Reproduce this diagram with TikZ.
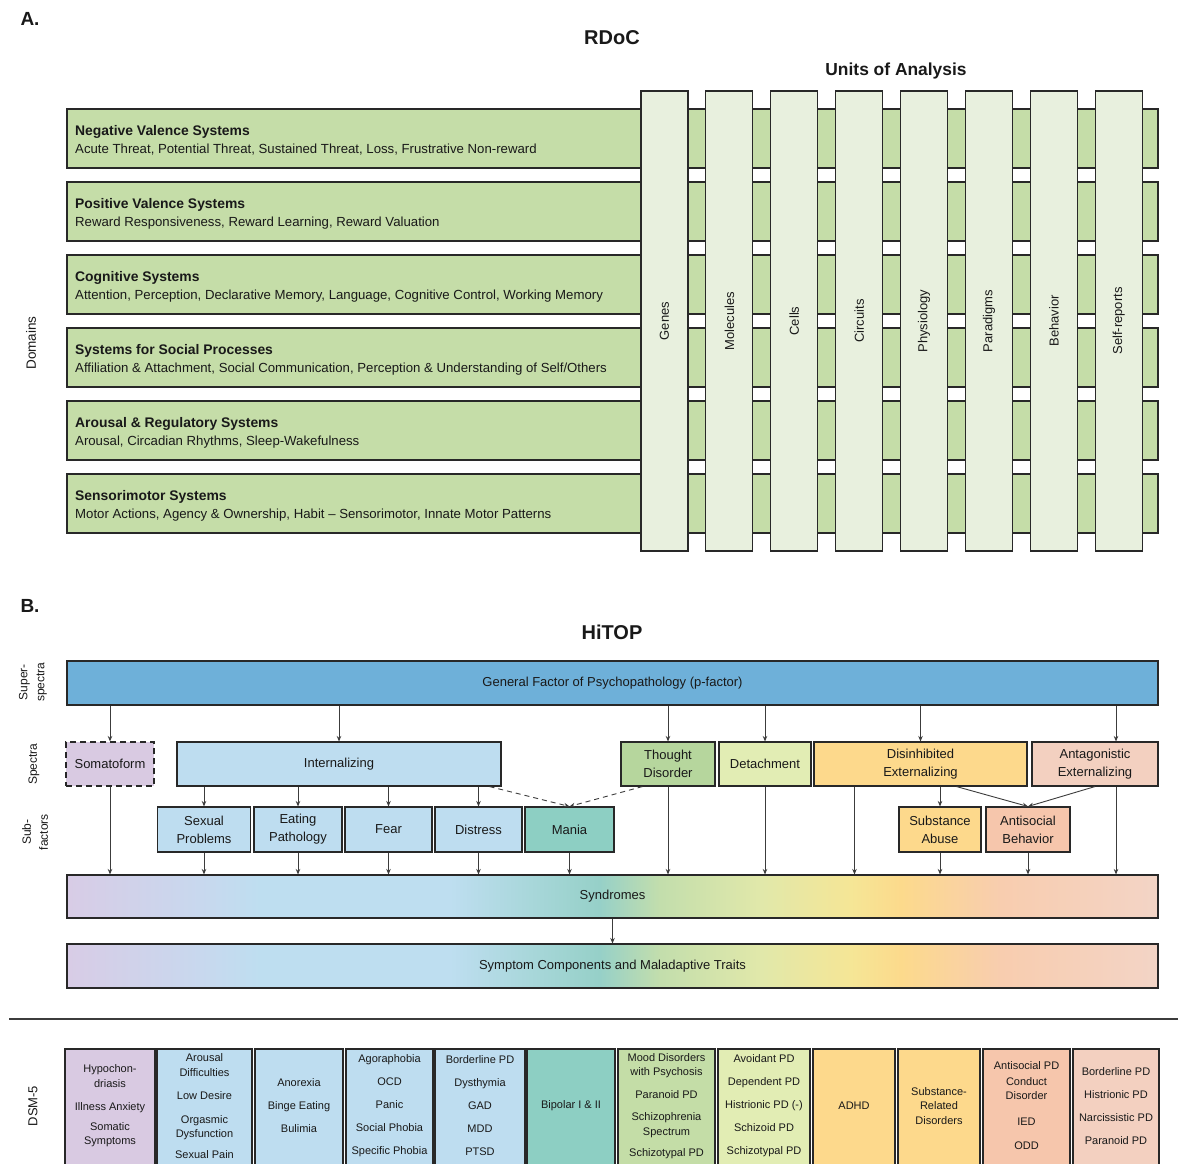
\documentclass[tikz,border=0pt]{standalone}
\usepackage{fontspec}
\setmainfont{Liberation Sans}
\usetikzlibrary{arrows.meta,calc}

\definecolor{ink}{RGB}{25,25,25}
\definecolor{edge}{RGB}{40,40,40}
\definecolor{wire}{RGB}{60,60,60}
\definecolor{rowgreen}{RGB}{197,221,168}
\definecolor{colgreen}{RGB}{232,240,222}
\definecolor{gfblue}{RGB}{110,176,217}
\definecolor{ltblue}{RGB}{190,221,240}
\definecolor{lav}{RGB}{217,202,226}
\definecolor{maniacol}{RGB}{141,207,195}
\definecolor{tdgreen}{RGB}{182,214,157}
\definecolor{dsmgreen}{RGB}{196,221,167}
\definecolor{detyel}{RGB}{226,237,180}
\definecolor{disorange}{RGB}{253,217,140}
\definecolor{antpink}{RGB}{243,208,192}
\definecolor{asbpink}{RGB}{246,198,172}

% colour stops of the spectrum band (path width maps to 25bp..75bp)
\definecolor{gA}{RGB}{216,204,230}
\definecolor{gB}{RGB}{200,216,238}
\definecolor{gC}{RGB}{190,222,240}
\definecolor{gD}{RGB}{190,222,240}
\definecolor{gE}{RGB}{160,212,210}
\definecolor{gF}{RGB}{150,208,200}
\definecolor{gG}{RGB}{195,222,172}
\definecolor{gH}{RGB}{225,232,170}
\definecolor{gI}{RGB}{245,230,150}
\definecolor{gJ}{RGB}{252,218,140}
\definecolor{gK}{RGB}{248,205,175}
\definecolor{gL}{RGB}{243,212,198}
\pgfdeclarehorizontalshading{spectrumband}{100bp}{%
  color(0bp)=(gA); color(25bp)=(gA); color(31.1bp)=(gB); color(33.85bp)=(gC);
  color(42.55bp)=(gD); color(47.6bp)=(gE); color(49.4bp)=(gF); color(52.2bp)=(gG);
  color(56.8bp)=(gH); color(60.9bp)=(gI); color(63.2bp)=(gJ); color(67.8bp)=(gK);
  color(75bp)=(gL); color(100bp)=(gL)}

\tikzset{
  unitcol/.style={draw=edge, line width=1.1pt, fill=colgreen, minimum width=47pt,
    minimum height=460pt, inner sep=0pt, text=ink, font=\fontsize{13}{15}\selectfont},
  domrow/.style={draw=edge, line width=1.1pt, fill=rowgreen, minimum width=1091pt,
    minimum height=59pt, inner sep=0pt},
  domtitle/.style={font=\bfseries\fontsize{13.9}{16}\selectfont, inner sep=0pt,
    anchor=base west, text=ink},
  domsub/.style={font=\fontsize{13.2}{16}\selectfont, inner sep=0pt,
    anchor=base west, text=ink},
  hbox/.style={draw=edge, line width=1.1pt, inner sep=1pt, align=center, text=ink,
    font=\fontsize{13}{18}\selectfont},
  arr/.style={draw=wire, line width=0.9pt, -{Stealth[length=5.5pt,width=4.5pt]}},
  dsmbox/.style={draw=edge, line width=1.1pt, minimum height=131pt, inner sep=0pt},
  dsmtext/.style={align=center, text=ink, font=\fontsize{11}{14.5}\selectfont, inner sep=0pt},
  sidelab/.style={rotate=90, align=center, text=ink, font=\fontsize{12}{17}\selectfont},
  headlab/.style={font=\bfseries\fontsize{19}{22}\selectfont, text=ink},
}

\newcommand\DomainRow[5]{%
  \node[domrow] (#1) at (612.5,#2) {};
  \node[domtitle] (#1-t) at (75,#2-3.5) {#3};
  \node[domsub] (#1-s) at (75,#2+14.5) {#4};
}
\newcommand\UnitCol[3]{%
  \node[unitcol] (#1) at (#2,321) {\rotatebox{90}{#3}};
}
\newcommand\DsmBox[5]{%
  \node[dsmbox, fill=#4, minimum width=#3pt] (#1) at (#2,1114.5) {};
  \node[dsmtext] (#1-t) at (#2,1106) {#5};
}

\begin{document}
\begin{tikzpicture}[x=1pt,y=-1pt]
\useasboundingbox (0,0) rectangle (1184,1163);
\fill[white] (0,0) rectangle (1184,1163);

% ---------------- Panel A: RDoC matrix ----------------
\node[headlab] (labA) at (30,19) {A.};
\node[font=\bfseries\fontsize{20}{24}\selectfont, text=ink] (rdoc) at (612,38) {RDoC};
\node[font=\bfseries\fontsize{17.4}{20}\selectfont, text=ink] (units) at (896,71) {Units of Analysis};
\node[sidelab, font=\fontsize{13.5}{16}\selectfont] (domains) at (31,343) {Domains};

\DomainRow{nvs}{138.5}{Negative Valence Systems}{Acute Threat, Potential Threat, Sustained Threat, Loss, Frustrative Non-reward}{}
\DomainRow{pvs}{211.5}{Positive Valence Systems}{Reward Responsiveness, Reward Learning, Reward Valuation}{}
\DomainRow{cog}{284.5}{Cognitive Systems}{Attention, Perception, Declarative Memory, Language, Cognitive Control, Working Memory}{}
\DomainRow{soc}{357.5}{Systems for Social Processes}{Affiliation \& Attachment, Social Communication, Perception \& Understanding of Self/Others}{}
\DomainRow{aro}{430.5}{Arousal \& Regulatory Systems}{Arousal, Circadian Rhythms, Sleep-Wakefulness}{}
\DomainRow{sen}{503.5}{Sensorimotor Systems}{Motor Actions, Agency \& Ownership, Habit -- Sensorimotor, Innate Motor Patterns}{}

\UnitCol{genes}{664.5}{Genes}
\UnitCol{molec}{729.4}{Molecules}
\UnitCol{cells}{794.3}{Cells}
\UnitCol{circ}{859.2}{Circuits}
\UnitCol{phys}{924.1}{Physiology}
\UnitCol{parad}{989}{Paradigms}
\UnitCol{behav}{1053.9}{Behavior}
\UnitCol{selfr}{1118.8}{Self-reports}

% ---------------- Panel B: HiTOP hierarchy ----------------
\node[headlab] (labB) at (30,606) {B.};
\node[font=\bfseries\fontsize{20}{24}\selectfont, text=ink] (hitop) at (612,632) {HiTOP};

\node[sidelab] (lsuper) at (33,682) {Super-\\spectra};
\node[sidelab] (lspec) at (34,764) {Spectra};
\node[sidelab] (lsub) at (35,832) {Sub-\\factors};
\node[sidelab, font=\fontsize{13}{16}\selectfont] (ldsm) at (33,1106) {DSM-5};

% super-spectrum
\node[hbox, fill=gfblue, minimum width=1091pt, minimum height=44pt] (gf) at (612.5,683)
  {General Factor of Psychopathology (p-factor)};

% spectra
\node[hbox, fill=lav, dashed, dash pattern=on 6pt off 4pt, minimum width=88pt, minimum height=44pt] (som) at (110,764) {Somatoform};
\node[hbox, fill=ltblue, minimum width=324pt, minimum height=44pt] (int) at (339,764) {Internalizing};
\node[hbox, fill=tdgreen, minimum width=94pt, minimum height=44pt] (td) at (668,764) {Thought\\Disorder};
\node[hbox, fill=detyel, minimum width=92pt, minimum height=44pt] (det) at (765,764) {Detachment};
\node[hbox, fill=disorange, minimum width=213pt, minimum height=44pt] (dis) at (920.5,764) {Disinhibited\\Externalizing};
\node[hbox, fill=antpink, minimum width=126pt, minimum height=44pt] (ant) at (1095,764) {Antagonistic\\Externalizing};

% sub-factors
\node[hbox, fill=ltblue, minimum width=93pt, minimum height=45pt] (sex) at (204,829.5) {Sexual\\Problems};
\node[hbox, fill=ltblue, minimum width=88pt, minimum height=45pt] (eat) at (298,829.5) {Eating\\Pathology};
\node[hbox, fill=ltblue, minimum width=87pt, minimum height=45pt] (fear) at (388.5,829.5) {Fear};
\node[hbox, fill=ltblue, minimum width=87pt, minimum height=45pt] (dist) at (478.5,829.5) {Distress};
\node[hbox, fill=maniacol, minimum width=89pt, minimum height=45pt] (mania) at (569.5,829.5) {Mania};
\node[hbox, fill=disorange, minimum width=82pt, minimum height=45pt] (sub) at (940,829.5) {Substance\\Abuse};
\node[hbox, fill=asbpink, minimum width=84pt, minimum height=45pt] (asb) at (1028,829.5) {Antisocial\\Behavior};

% syndromes and symptom components
\node[hbox, shading=spectrumband, minimum width=1091pt, minimum height=43pt] (syn) at (612.5,896.5) {Syndromes};
\node[hbox, shading=spectrumband, minimum width=1091pt, minimum height=44pt] (sym) at (612.5,966) {Symptom Components and Maladaptive Traits};

% helper points for off-centre connectors
\coordinate (antx) at ([xshift=21pt]ant.north);
\coordinate (antb) at ([xshift=21pt]ant.south);
\coordinate (disb) at ([xshift=-66pt]dis.south);
\coordinate (disr) at ([xshift=36pt]dis.south);
\coordinate (intr) at ([xshift=-12pt]int.south east);
\coordinate (tdl) at ([xshift=22pt]td.south west);

% general factor to spectra
\draw[arr] (gf.south -| som.north) -- (som.north);
\draw[arr] (gf.south -| int.north) -- (int.north);
\draw[arr] (gf.south -| td.north) -- (td.north);
\draw[arr] (gf.south -| det.north) -- (det.north);
\draw[arr] (gf.south -| dis.north) -- (dis.north);
\draw[arr] (gf.south -| antx) -- (antx);

% spectra to sub-factors
\draw[arr] (int.south -| sex.north) -- (sex.north);
\draw[arr] (int.south -| eat.north) -- (eat.north);
\draw[arr] (int.south -| fear.north) -- (fear.north);
\draw[arr] (int.south -| dist.north) -- (dist.north);
\draw[arr, dashed, dash pattern=on 5pt off 4pt] (intr) -- (mania.north);
\draw[arr, dashed, dash pattern=on 5pt off 4pt] (tdl) -- (mania.north);
\draw[arr] (dis.south -| sub.north) -- (sub.north);
\draw[arr] (disr) -- (asb.north);
\draw[arr] (ant.south) -- (asb.north);

% everything down to syndromes
\draw[arr] (som.south) -- (som.south |- syn.north);
\draw[arr] (sex.south) -- (sex.south |- syn.north);
\draw[arr] (eat.south) -- (eat.south |- syn.north);
\draw[arr] (fear.south) -- (fear.south |- syn.north);
\draw[arr] (dist.south) -- (dist.south |- syn.north);
\draw[arr] (mania.south) -- (mania.south |- syn.north);
\draw[arr] (td.south) -- (td.south |- syn.north);
\draw[arr] (det.south) -- (det.south |- syn.north);
\draw[arr] (disb) -- (disb |- syn.north);
\draw[arr] (sub.south) -- (sub.south |- syn.north);
\draw[arr] (asb.south) -- (asb.south |- syn.north);
\draw[arr] (antb) -- (antb |- syn.north);
\draw[arr] (syn.south) -- (sym.north);

% rule above the DSM-5 row
\draw[line width=1.4pt, draw=wire] (9,1019) -- (1178,1019);

% ---------------- DSM-5 categories ----------------
\begin{scope}
\clip (0,0) rectangle (1184,1163);
\DsmBox{d1}{110}{90}{lav}{Hypochon-\\driasis\\[9pt]Illness Anxiety\\[5pt]Somatic\\Symptoms}
\DsmBox{d2}{204.5}{95}{ltblue}{Arousal\\Difficulties\\[9pt]Low Desire\\[9pt]Orgasmic\\Dysfunction\\[6pt]Sexual Pain}
\DsmBox{d3}{299}{88}{ltblue}{Anorexia\\[8.5pt]Binge Eating\\[8.5pt]Bulimia}
\DsmBox{d4}{389.5}{87}{ltblue}{Agoraphobia\\[8.5pt]OCD\\[8.5pt]Panic\\[8.5pt]Social Phobia\\[8.5pt]Specific Phobia}
\DsmBox{d5}{480}{90}{ltblue}{Borderline PD\\[8.5pt]Dysthymia\\[8.5pt]GAD\\[8.5pt]MDD\\[8.5pt]PTSD}
\DsmBox{d6}{571}{88}{maniacol}{Bipolar I \& II}
\DsmBox{d7}{666.5}{97}{dsmgreen}{Mood Disorders\\with Psychosis\\[8pt]Paranoid PD\\[8pt]Schizophrenia\\Spectrum\\[7pt]Schizotypal PD}
\DsmBox{d8}{764}{92}{detyel}{Avoidant PD\\[8.5pt]Dependent PD\\[8.5pt]Histrionic PD (-)\\[8.5pt]Schizoid PD\\[8.5pt]Schizotypal PD}
\DsmBox{d9}{854}{82}{disorange}{ADHD}
\DsmBox{d10}{939}{82}{disorange}{Substance-\\Related\\Disorders}
\DsmBox{d11}{1026.5}{87}{asbpink}{Antisocial PD\\[1pt]Conduct\\Disorder\\[11pt]IED\\[10pt]ODD}
\DsmBox{d12}{1116}{86}{antpink}{Borderline PD\\[8.5pt]Histrionic PD\\[8.5pt]Narcissistic PD\\[8.5pt]Paranoid PD}
\end{scope}
\end{tikzpicture}
\end{document}
